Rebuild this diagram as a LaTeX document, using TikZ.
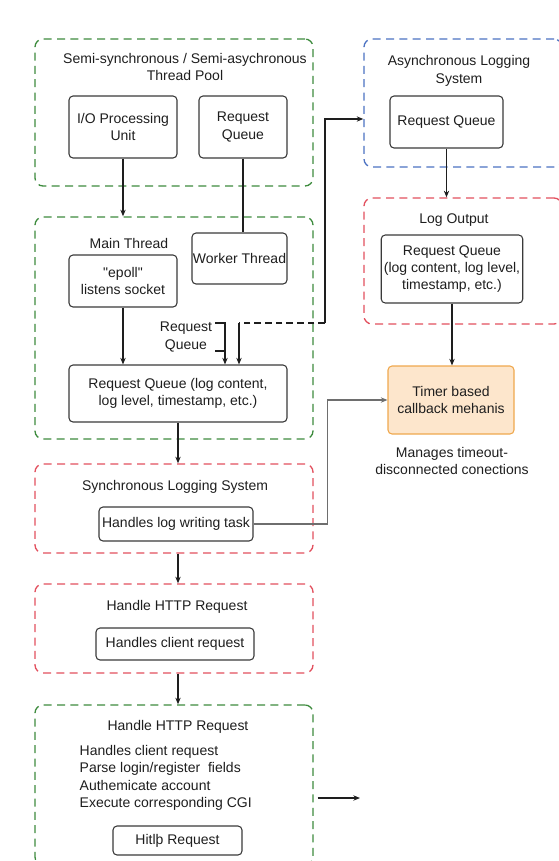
\documentclass[tikz,border=0pt]{standalone}
\usepackage{fontspec}
\setmainfont{Liberation Sans}[Ligatures=TeXOff]
\usepackage{xcolor}
\usepackage{tikz}
\usetikzlibrary{calc,positioning,arrows.meta}
\definecolor{Leaf}{HTML}{3D8B3D}
\definecolor{Coral}{HTML}{E2505E}
\definecolor{Azure}{HTML}{4C72C2}
\definecolor{Amber}{HTML}{EFA84E}
\definecolor{Peach}{HTML}{FDE6CC}
\definecolor{Edge}{HTML}{3A3A3A}
\definecolor{Ink}{HTML}{1E1E1E}
\definecolor{Wire}{HTML}{6E6E6E}

\begin{document}
\begin{tikzpicture}[x=0.75pt,y=-0.75pt,
  font=\fontsize{10.5}{13}\selectfont,text=Ink,
  group/.style={draw,line width=1pt,dash pattern=on 6pt off 4pt,rounded corners=6pt,minimum width=208.5pt},
  unit/.style={draw=Edge,line width=.8pt,rounded corners=3pt,fill=white,align=center,inner sep=2pt},
  caption/.style={align=center,inner sep=1pt},
  arr/.style={-{Stealth[length=5pt,width=4pt]},line width=.8pt,draw=Ink}]
\useasboundingbox (0,0) rectangle (558,861);
% dashed containers
\node[group,draw=Leaf,minimum height=110.25pt] (pool) at (174,112.5) {};
\node[group,draw=Leaf,minimum height=166.5pt] (main) at (174,328) {};
\node[group,draw=Azure,minimum width=148.5pt,minimum height=96pt] (async) at (463,103) {};
\node[group,draw=Coral,minimum width=148.5pt,minimum height=94.5pt] (logout) at (463,261) {};
\node[group,draw=Coral,minimum height=66.75pt] (synclog) at (174,508.5) {};
\node[group,draw=Coral,minimum height=66.75pt] (http) at (174,628.5) {};
\node[group,draw=Leaf,minimum height=120pt] (httpg) at (174,785) {};
% titles
\node[caption] (pooltitle) at (185,67) {Semi-synchronous / Semi-asychronous\\Thread Pool};
\node[caption] (maintitle) at (129,243) {Main Thread};
\node[caption] (asynctitle) at (459,71) {Asynchronous Logging\\System};
\node[caption] (logtitle) at (454,220) {Log Output};
\node[caption] (synctitle) at (175,487) {Synchronous Logging System};
\node[caption] (httptitle) at (177,607) {Handle HTTP Request};
\node[caption] (httpgtitle) at (178,727) {Handle HTTP Request};
% boxes
\node[unit,minimum width=81pt,minimum height=46.5pt] (io) at (123,127) {I/O Processing\\Unit};
\node[unit,minimum width=66pt,minimum height=46.5pt] (rqpool) at (243,127) {Request\\Queue};
\node[unit,inner xsep=0pt,minimum width=71.25pt,minimum height=38.25pt] (worker) at (239.5,258.5) {Worker Thread};
\node[unit,minimum width=81pt,minimum height=39pt] (epoll) at (123,281) {"epoll"\\listens socket};
\node[unit,minimum width=163.5pt,minimum height=42.75pt] (rqmain) at (178,393.5) {Request Queue (log content,\\log level, timestamp, etc.)};
\node[caption] (rqlabel) at (186,337) {Request\\Queue};
\node[unit,minimum width=84.75pt,minimum height=39pt] (rqasync) at (446.5,122) {Request Queue};
\node[unit,minimum width=102pt,minimum height=51pt] (rqlog) at (452,269) {Request Queue\\(log content, log level,\\timestamp, etc.)};
\node[unit,draw=Amber,fill=Peach,minimum width=94.5pt,minimum height=51pt] (timer) at (451,400) {Timer based\\callback mehanis};
\node[caption] (manages) at (452,461) {Manages timeout-\\disconnected conections};
\node[unit,minimum width=115.5pt,minimum height=25.5pt] (logwrite) at (176,524) {Handles log writing task};
\node[unit,minimum width=118.5pt,minimum height=24pt] (client) at (175,644) {Handles client request};
\node[align=left,anchor=west] (steps) at (75,778) {Handles client request\\Parse login/register\ \ fields\\Authemicate account\\Execute corresponding CGI};
\node[unit,minimum width=96.75pt,minimum height=21.75pt] (hitlp) at (177.5,840.5) {Hitlþ Request};
% connectors
\draw[arr] (io) -- (io |- main.north);
\draw[line width=.8pt,Ink] (rqpool.south) -- (rqpool.south |- worker.north);
\draw[arr] (epoll) -- (epoll |- rqmain.north);
\coordinate (brtop) at (215,323);
\coordinate (brend) at (225,351);
\draw[line width=.8pt,Ink] (brtop) -| (brend) -- (brend -| brtop);
\draw[arr] (brend) -- (brend |- rqmain.north);
\coordinate (turn) at (325,323);
\draw[line width=.8pt,Ink,dash pattern=on 5pt off 3pt] (turn) -- ++(-86,0) coordinate (drop);
\draw[arr] (drop) -- (drop |- rqmain.north);
\draw[arr] (turn) |- ($(async.west)+(0,16)$);
\draw[arr] (rqasync) -- (rqasync |- logout.north);
\draw[arr] (rqlog.south) -- (rqlog.south |- timer.north);
\draw[arr,draw=Wire] (logwrite.east) -- ++(74,0) |- (timer.west);
\draw[arr] (rqmain.south) -- (rqmain.south |- synclog.north);
\draw[arr] (rqmain.south |- synclog.south) -- (rqmain.south |- http.north);
\draw[arr] (rqmain.south |- http.south) -- (rqmain.south |- httpg.north);
\coordinate (exit) at (360,798);
\draw[arr] ($(httpg.east |- exit)+(4,0)$) -- (exit);
\end{tikzpicture}
\end{document}
